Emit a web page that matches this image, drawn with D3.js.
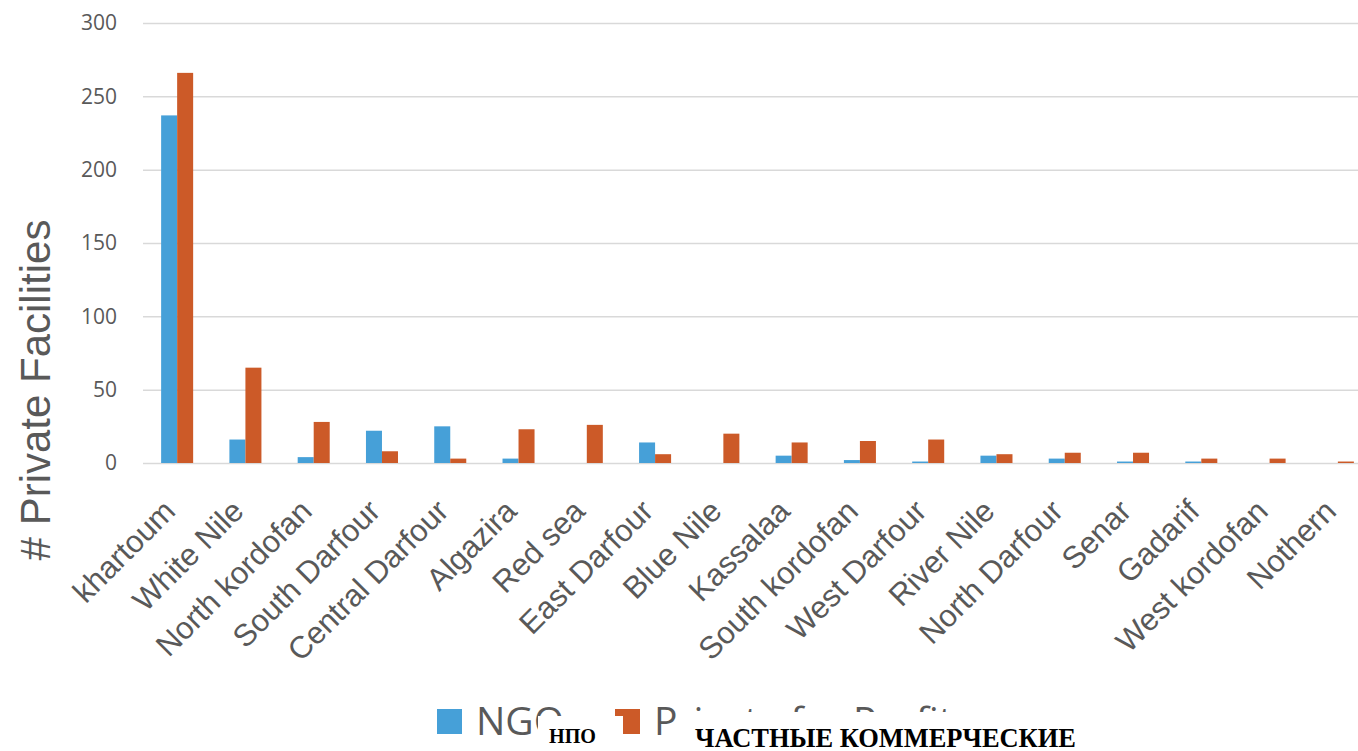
<!DOCTYPE html>
<html>
<head>
<meta charset="utf-8">
<script src="https://cdn.jsdelivr.net/npm/d3@7"></script>
<style>
  html, body { margin: 0; padding: 0; background: #fff; }
  svg { display: block; }
</style>
</head>
<body>
<svg id="chart" width="1358" height="751"></svg>
<script>
// Private health facilities per state, split by ownership type
const states = ["khartoum", "White Nile", "North kordofan", "South Darfour", "Central Darfour",
  "Algazira", "Red sea", "East Darfour", "Blue Nile", "Kassalaa", "South kordofan",
  "West Darfour", "River Nile", "North Darfour", "Senar", "Gadarif", "West kordofan", "Nothern"];
const ngo =     [237, 16,  4, 22, 25,  3,  0, 14,  0,  5,  2,  1, 5, 3, 1, 1, 0, 0];
const private_ = [266, 65, 28,  8,  3, 23, 26,  6, 20, 14, 15, 16, 6, 7, 7, 3, 3, 1];
const seriesNames = ["NGO", "Private for Profit"];
const seriesOverlay = ["НПО", "ЧАСТНЫЕ КОММЕРЧЕСКИЕ"];
const yTicks = [0, 50, 100, 150, 200, 250, 300];
const yTitle = "# Private Facilities";

const colors = ["#46a0d8", "#cc5a28"];
const textGrey = "#595959";

const svg = d3.select("#chart");
const plot = { left: 143, right: 1372, top: 23, bottom: 463 };

const x0 = d3.scaleBand().domain(states)
  .range([plot.left, plot.right]).paddingInner(0.531).paddingOuter(0.2655);
const x1 = d3.scaleBand().domain(seriesNames).range([0, x0.bandwidth()]);
const y = d3.scaleLinear().domain([0, 300]).range([plot.bottom, plot.top]);

// gridlines and value ticks
const yAxis = d3.axisLeft(y).tickValues(yTicks).tickSize(-(1358 - plot.left)).tickPadding(26);
const gy = svg.append("g").attr("transform", `translate(${plot.left},0)`).call(yAxis);
gy.select(".domain").remove();
gy.selectAll(".tick line").attr("stroke", "#d9d9d9").attr("stroke-width", 1.5);
gy.selectAll(".tick text")
  .attr("fill", textGrey)
  .style("font-family", "'Open Sans', sans-serif")
  .style("font-size", "21px");

// bars
const rows = states.map((s, i) => ({ state: s, values: [ngo[i], private_[i]] }));
const groups = svg.append("g").selectAll("g").data(rows).join("g")
  .attr("transform", d => `translate(${x0(d.state)},0)`);
groups.selectAll("rect")
  .data(d => d.values.map((v, k) => ({ key: seriesNames[k], value: v, k })))
  .join("rect")
  .attr("x", d => x1(d.key))
  .attr("width", x1.bandwidth())
  .attr("y", d => y(d.value))
  .attr("height", d => y(0) - y(d.value))
  .attr("fill", d => colors[d.k]);

// category labels, rotated
const xAxis = d3.axisBottom(x0).tickSize(0).tickPadding(0);
const gx = svg.append("g").attr("transform", `translate(0,${plot.bottom})`).call(xAxis);
gx.select(".domain").remove();
gx.selectAll(".tick text")
  .attr("fill", textGrey)
  .attr("text-anchor", "end")
  .attr("y", 0).attr("dy", 0)
  .attr("transform", "translate(0,50) rotate(-45)")
  .style("font-family", "'Liberation Sans', Arial, sans-serif")
  .style("font-size", "31px");

// y-axis title
svg.append("text")
  .attr("transform", "translate(50,390) rotate(-90)")
  .attr("text-anchor", "middle")
  .attr("fill", textGrey)
  .style("font-family", "'Liberation Sans', Arial, sans-serif")
  .style("font-size", "42px")
  .text(yTitle);

// legend
const legend = svg.append("g");
const legendX = [437, 615];
seriesNames.forEach((name, k) => {
  legend.append("rect").attr("x", legendX[k]).attr("y", 709)
    .attr("width", 25).attr("height", 25).attr("fill", colors[k]);
  legend.append("text").attr("x", legendX[k] + 39).attr("y", 735)
    .attr("fill", textGrey)
    .style("font-family", "'Open Sans', sans-serif")
    .style("font-size", "39px")
    .text(name);
});

// translated captions laid over the legend entries
const overlay = [
  { box: [538, 716, 85, 40], x: 549, yb: 743, size: 20, len: 47 },
  { box: [680, 712, 410, 45], x: 695, yb: 747, size: 27, len: 381 }
];
overlay.forEach((o, k) => {
  svg.append("rect").attr("x", o.box[0]).attr("y", o.box[1])
    .attr("width", o.box[2]).attr("height", o.box[3]).attr("fill", "#fff");
  svg.append("text").attr("x", o.x).attr("y", o.yb)
    .attr("fill", "#000")
    .attr("textLength", o.len).attr("lengthAdjust", "spacingAndGlyphs")
    .style("font-family", "'Liberation Serif', 'Times New Roman', serif")
    .style("font-weight", "bold")
    .style("font-size", o.size + "px")
    .text(seriesOverlay[k]);
});
</script>
</body>
</html>
